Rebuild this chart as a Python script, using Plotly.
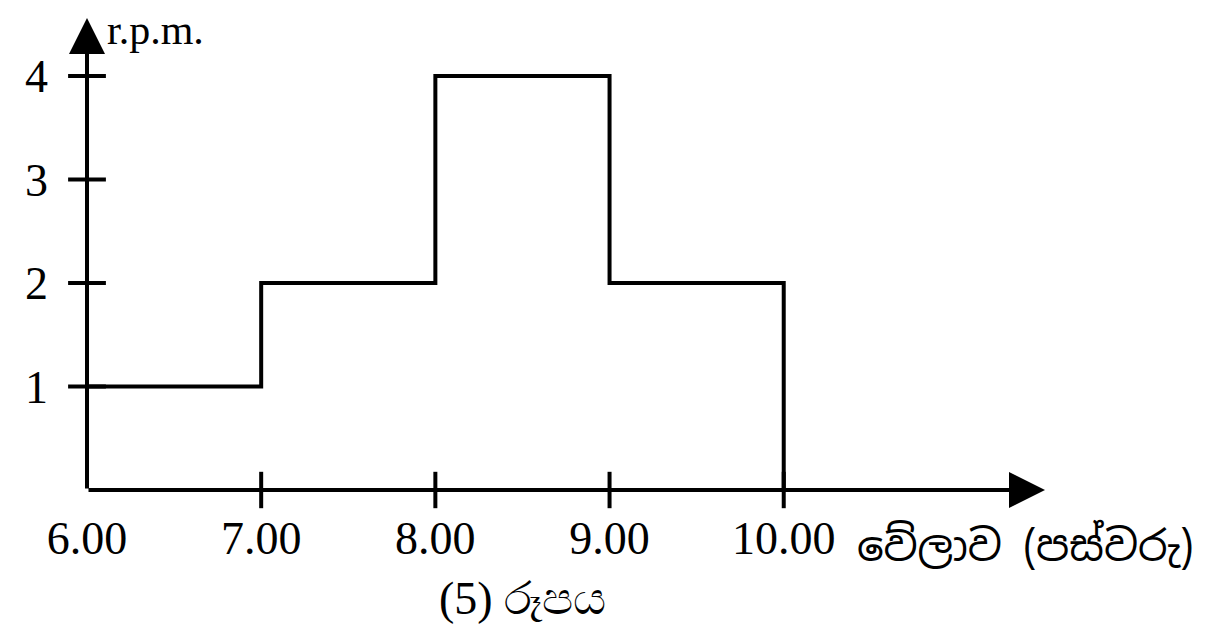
import plotly.graph_objects as go

# Data
hours = [6, 7, 8, 9, 10]
rpm = [1, 2, 4, 2]
x_tick_vals = [6, 7, 8, 9, 10]
x_tick_text = ["6.00", "7.00", "8.00", "9.00", "10.00"]
y_tick_vals = [1, 2, 3, 4]
y_tick_text = ["1", "2", "3", "4"]
x_title = "වේලාව (පස්වරු)"
y_title = "r.p.m."
caption = "(5) රූපය"

X_MAX = 11.5
Y_MAX = 4.56

step_x = hours + [hours[-1]]
step_y = rpm + [rpm[-1], 0]

serif = "Liberation Serif, Times New Roman, serif"
sinhala = "Noto Sans Sinhala, Noto Serif Sinhala, Iskoola Pota, Liberation Serif, serif"

fig = go.Figure()

fig.add_trace(go.Scatter(
    x=step_x, y=step_y, mode="lines", line=dict(color="black", width=4, shape="hv"),
    hoverinfo="skip", showlegend=False, cliponaxis=False))

# tick marks crossing the axes
fig.add_trace(go.Scatter(
    x=x_tick_vals[1:], y=[0] * (len(x_tick_vals) - 1), mode="markers",
    marker=dict(symbol="line-ns", size=26, line=dict(color="black", width=4)),
    hoverinfo="skip", showlegend=False, cliponaxis=False))
fig.add_trace(go.Scatter(
    x=[6] * len(y_tick_vals), y=y_tick_vals, mode="markers",
    marker=dict(symbol="line-ew", size=27, line=dict(color="black", width=4)),
    hoverinfo="skip", showlegend=False, cliponaxis=False))

# axes with arrows
fig.add_annotation(x=X_MAX, y=0, ax=6, ay=0, xref="x", yref="y", axref="x", ayref="y",
                   showarrow=True, arrowhead=2, arrowsize=1.8, arrowwidth=4, arrowcolor="black", text="")
fig.add_annotation(x=6, y=Y_MAX, ax=6, ay=0, xref="x", yref="y", axref="x", ayref="y",
                   showarrow=True, arrowhead=2, arrowsize=1.8, arrowwidth=4, arrowcolor="black", text="")

fig.add_annotation(x=6, y=Y_MAX, xref="x", yref="y", text=y_title, showarrow=False,
                   xanchor="left", yanchor="middle", xshift=18, yshift=-12,
                   font=dict(family=serif, size=42, color="black"))
fig.add_annotation(x=1.0, y=0, xref="paper", yref="paper", text=x_title, showarrow=False,
                   xanchor="left", yanchor="middle", xshift=-190, yshift=-56,
                   font=dict(family=sinhala, size=42, color="black"))
fig.add_annotation(x=8.5, y=0, xref="x", yref="paper", text=caption, showarrow=False,
                   xanchor="center", yanchor="middle", yshift=-108,
                   font=dict(family=serif, size=46, color="black"))

fig.update_layout(
    width=1190, height=617,
    margin=dict(l=79, r=153, t=10, b=135),
    paper_bgcolor="white", plot_bgcolor="white",
    xaxis=dict(range=[6, X_MAX], tickvals=x_tick_vals, ticktext=x_tick_text,
               showgrid=False, zeroline=False, showline=False, ticks="", automargin=False,
               ticklabelstandoff=17, tickfont=dict(family=serif, size=46, color="black")),
    yaxis=dict(range=[0, Y_MAX], tickvals=y_tick_vals, ticktext=y_tick_text,
               showgrid=False, zeroline=False, showline=False, ticks="", automargin=False,
               ticklabelstandoff=38, tickfont=dict(family=serif, size=46, color="black")),
)

fig.write_html("out.html")
